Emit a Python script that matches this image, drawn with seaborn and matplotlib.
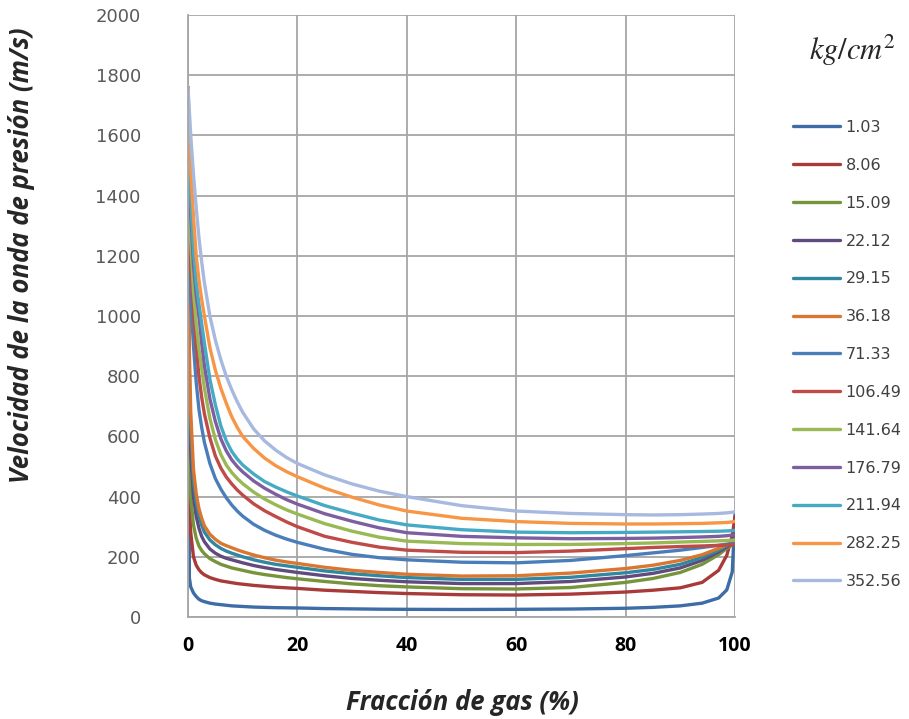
import matplotlib
matplotlib.use("Agg")
import matplotlib.pyplot as plt
import pandas as pd
import seaborn as sns

# Gas volume fraction (%) at which the wave speed was evaluated
gas_fraction = [0, 0.25, 0.5, 1, 1.5, 2, 2.5, 3, 4, 5,
                6, 7, 8, 9, 10, 12, 14, 16, 18, 20,
                25, 30, 35, 40, 50, 60, 70, 80, 85, 90,
                94, 97, 98.5, 99.5, 100]

# Line pressures (kg/cm^2)
pressure_labels = ["1.03", "8.06", "15.09", "22.12", "29.15", "36.18", "71.33",
                   "106.49", "141.64", "176.79", "211.94", "282.25", "352.56"]

# Pressure-wave speed (m/s) for each pressure
speed_1_03 = [1760, 130, 100, 80, 68, 59, 54, 51, 46, 43,
              41, 39, 37, 36, 35, 33, 32, 31, 30.5, 30,
              28, 27, 26, 25.5, 25, 25.5, 26.5, 29, 32, 37,
              46, 63, 90, 150, 340]
speed_8_06 = [1760, 380, 280, 200, 172, 157, 147, 140, 131, 125,
              120, 117, 114, 111, 109, 105, 102, 99, 97, 95,
              89, 85, 81, 78, 74, 73, 76, 83, 89, 97,
              115, 155, 205, 270, 333]
speed_15_09 = [1760, 520, 400, 306, 262, 236, 221, 210, 194, 184,
               175, 169, 163, 159, 155, 147, 141, 136, 131, 127,
               118, 110, 104, 100, 94, 93, 98, 115, 128, 148,
               175, 207, 228, 240, 244]
speed_22_12 = [1760, 700, 550, 400, 335, 295, 268, 250, 226, 212,
               202, 195, 190, 185, 180, 171, 164, 158, 153, 148,
               137, 128, 122, 117, 111, 111, 118, 133, 145, 163,
               188, 216, 233, 243, 246]
speed_29_15 = [1760, 800, 620, 450, 380, 335, 305, 282, 256, 240,
               228, 219, 212, 206, 200, 190, 182, 175, 170, 165,
               153, 144, 137, 131, 125, 125, 132, 147, 158, 175,
               198, 222, 237, 245, 247]
speed_36_18 = [1760, 880, 680, 490, 410, 360, 328, 303, 275, 258,
               245, 237, 230, 223, 217, 206, 197, 189, 183, 178,
               165, 155, 148, 142, 136, 137, 146, 161, 172, 188,
               207, 228, 240, 247, 249]
speed_71_33 = [1760, 1180, 1060, 900, 780, 690, 630, 580, 510, 460,
               425, 396, 372, 352, 335, 308, 288, 272, 259, 248,
               225, 208, 197, 190, 182, 180, 188, 204, 213, 222,
               231, 238, 242, 244, 245]
speed_106_49 = [1760, 1300, 1160, 1020, 900, 800, 730, 675, 595, 535,
                495, 465, 442, 422, 405, 376, 353, 334, 316, 300,
                268, 248, 232, 222, 215, 214, 219, 227, 231, 234,
                236, 238, 239, 240, 240]
speed_141_64 = [1760, 1400, 1250, 1080, 975, 890, 825, 760, 660, 590,
                540, 505, 480, 460, 443, 415, 392, 373, 356, 342,
                310, 285, 265, 252, 244, 241, 241, 244, 246, 249,
                251, 253, 254, 255, 256]
speed_176_79 = [1760, 1480, 1340, 1170, 1070, 1000, 910, 835, 725, 650,
                592, 552, 522, 500, 482, 452, 428, 408, 390, 375,
                343, 318, 296, 280, 268, 263, 260, 261, 262, 264,
                266, 268, 270, 272, 273]
speed_211_94 = [1760, 1520, 1390, 1220, 1110, 1040, 975, 910, 790, 705,
                635, 585, 550, 525, 505, 475, 450, 432, 416, 402,
                370, 345, 322, 306, 290, 282, 280, 281, 282, 283,
                284, 285, 286, 287, 288]
speed_282_25 = [1760, 1600, 1480, 1330, 1200, 1120, 1055, 1000, 895, 820,
                760, 710, 665, 630, 600, 560, 528, 503, 483, 466,
                428, 398, 372, 352, 328, 317, 311, 309, 309, 310,
                311, 313, 314, 316, 318]
speed_352_56 = [1760, 1680, 1600, 1470, 1360, 1260, 1180, 1110, 1000, 920,
                855, 800, 755, 715, 680, 625, 585, 555, 530, 510,
                472, 442, 418, 400, 370, 352, 344, 340, 339, 340,
                342, 344, 346, 348, 350]

all_speeds = [speed_1_03, speed_8_06, speed_15_09, speed_22_12, speed_29_15, speed_36_18,
              speed_71_33, speed_106_49, speed_141_64, speed_176_79, speed_211_94,
              speed_282_25, speed_352_56]

line_colors = ["#3D6CA6", "#A83B39", "#76953B", "#604A7E", "#2F87A0", "#DA7630",
               "#4A7EBB", "#BE4B48", "#98B954", "#7D5FA0", "#46AAC5", "#F79646", "#A7B9DE"]

frames = []
for label, speeds in zip(pressure_labels, all_speeds):
    frames.append(pd.DataFrame({"gas": gas_fraction, "speed": speeds, "pressure": label}))
df = pd.concat(frames, ignore_index=True)

sns.set_theme(style="white")
plt.rcParams["font.family"] = ["DejaVu Sans"]
plt.rcParams["mathtext.fontset"] = "stix"

W, H = 909, 719
fig = plt.figure(figsize=(W / 100, H / 100), dpi=100)
ax = fig.add_axes([188 / W, 1 - 617 / H, (735 - 188) / W, (617 - 15) / H])

sns.lineplot(data=df, x="gas", y="speed", hue="pressure", hue_order=pressure_labels,
             palette=line_colors, estimator=None, sort=False, linewidth=2.4, ax=ax)

ax.set_xlim(0, 100)
ax.set_ylim(0, 2000)
ax.set_xticks(range(0, 101, 20))
ax.set_yticks(range(0, 2001, 200))
ax.set_axisbelow(True)
ax.grid(True, color="#a6a6a6", linewidth=1.3)
for side in ["top", "right"]:
    ax.spines[side].set_visible(False)
for side in ["left", "bottom"]:
    ax.spines[side].set_color("#a6a6a6")
    ax.spines[side].set_linewidth(1.3)

ax.tick_params(axis="both", length=0)
ax.tick_params(axis="y", pad=34, labelsize=13, labelcolor="#595959")
ax.tick_params(axis="x", pad=14)
for t in ax.get_xticklabels():
    t.set_fontfamily("Open Sans")
    t.set_fontweight("bold")
    t.set_fontsize(14)
    t.set_color("black")
ax.set_xlabel("")
ax.set_ylabel("")

fig.text(22 / W, 1 - 255 / H, "Velocidad de la onda de presión (m/s)", rotation=90,
         ha="center", va="center", fontsize=18.5, fontweight="bold", fontstyle="italic",
         family="Open Sans")
fig.text(462 / W, 1 - 703 / H, "Fracción de gas (%)", ha="center", va="center",
         fontsize=18.5, fontweight="bold", fontstyle="italic", family="Open Sans")

handles, labels = ax.get_legend_handles_labels()
ax.legend(handles, labels, loc="upper left", bbox_to_anchor=(793 / W, 1 - 120 / H),
          bbox_transform=fig.transFigure, frameon=False, fontsize=11.5,
          handlelength=2.95, handletextpad=0.35, labelspacing=1.43,
          borderpad=0, borderaxespad=0, labelcolor="#404040")
fig.text(852 / W, 1 - 50 / H, r"$kg/cm^2$", ha="center", va="center", fontsize=22)

fig.savefig("out.png", dpi=100)
